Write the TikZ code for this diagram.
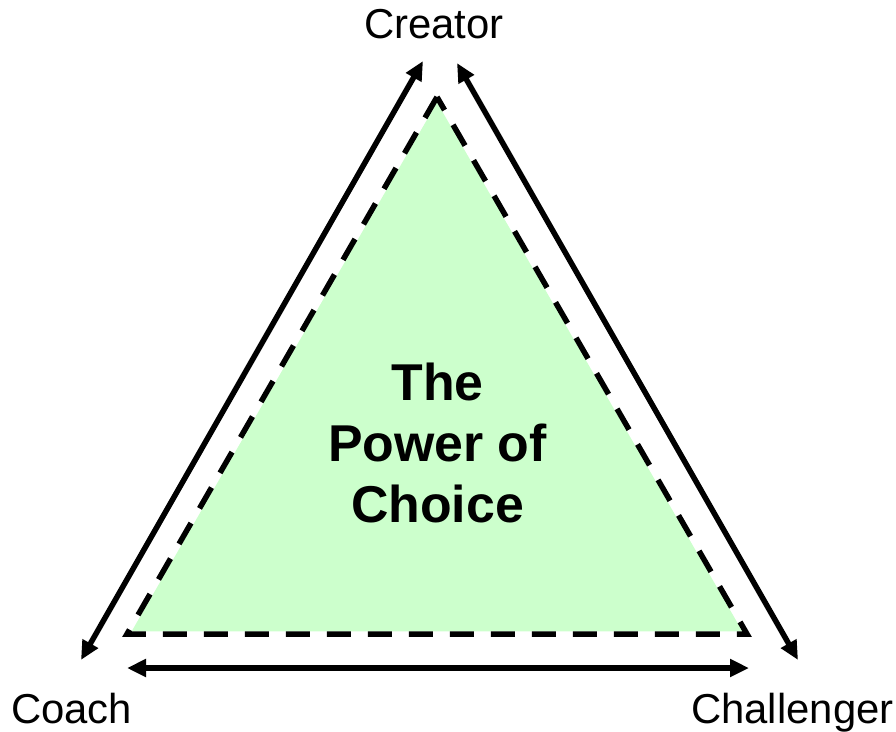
\documentclass[tikz,border=0pt]{standalone}
\usepackage{fontspec}
\setmainfont{Liberation Sans}
\usetikzlibrary{arrows.meta,calc}
\definecolor{paleGreen}{HTML}{CCFFCC}
\begin{document}
\begin{tikzpicture}[x=1bp,y=-1bp,
  lbl/.style={font=\fontsize{42}{50}\selectfont, inner sep=0pt, anchor=base},
  ctr/.style={font=\fontsize{52}{61}\selectfont\bfseries, align=center, inner sep=0pt},
  arr/.style={line width=5.5bp, {Triangle[length=19bp,width=17bp]}-{Triangle[length=19bp,width=17bp]}},
  tri/.style={draw=black, line width=5.5bp, dash pattern=on 24bp off 17bp}]
\useasboundingbox (0,0) rectangle (896,732);
% triangle
\coordinate (A) at (437,97);
\coordinate (B) at (127,634);
\coordinate (C) at (747,634);
\coordinate (G) at (437,455);
\fill[paleGreen] ($(G)!0.985!(A)$) -- ($(G)!0.985!(B)$) -- ($(G)!0.985!(C)$) -- cycle;
\draw[tri] (A) -- (B) -- (C) -- cycle;
% arrow ends
\coordinate (L1) at (423,61);
\coordinate (L2) at (81,660);
\coordinate (R1) at (457,63);
\coordinate (R2) at (798,660);
\coordinate (B1) at (127,668);
\coordinate (B2) at (749,668);
\draw[arr] (L1) -- (L2);
\draw[arr] (R1) -- (R2);
\draw[arr] (B1) -- (B2);
% labels
\node[lbl] (creator) at (434,39) {Creator};
\node[lbl, anchor=base west] (coach) at (11,723) {Coach};
\node[lbl, anchor=base west] (challenger) at (691,723) {Challenger};
\node[ctr] (choice) at (437.5,443) {The\\Power of\\Choice};
\end{tikzpicture}
\end{document}
